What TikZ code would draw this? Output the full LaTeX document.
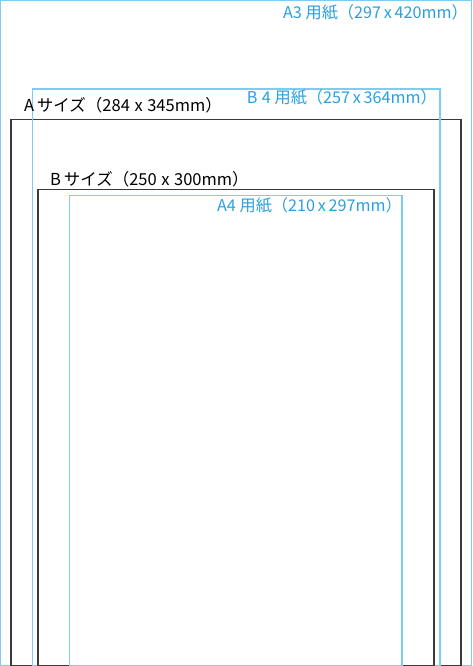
\documentclass[tikz,border=0pt]{standalone}
\usepackage{fontspec}
\setmainfont{Noto Sans CJK JP}
\definecolor{paperline}{HTML}{7CCDF4}
\definecolor{papertext}{HTML}{2A9FDB}
\definecolor{sizeline}{HTML}{3A3A3A}
\tikzset{
  paper/.style={draw=paperline, line width=1.1pt},
  sizebox/.style={draw=sizeline, line width=1.5pt},
  papertag/.style={text=papertext, font=\fontsize{16.2}{16.2}\selectfont, inner sep=0pt, anchor=base east},
  sizetag/.style={text=black, font=\fontsize{16.5}{16.5}\selectfont, inner sep=0pt, anchor=base west}
}
\begin{document}
\begin{tikzpicture}[x=1pt,y=-1pt]
\useasboundingbox (0,0) rectangle (472,666);
% A3
\draw[paper] (0.8,0.8) rectangle (471.2,666);
% A size
\draw[sizebox] (11,119.5) rectangle (461,665.5);
% B4
\draw[paper] (32.5,89) rectangle (440,666);
% B size
\draw[sizebox] (38,189.5) rectangle (434,665.5);
% A4
\draw[paper] (69.5,195.5) rectangle (402,666);
% labels
\node[papertag] (a3lab) at (468,19) {A3 用紙（297\,x\,420mm）};
\node[papertag] (b4lab) at (437,104) {B\;4 用紙（257\,x\,364mm）};
\node[sizetag] (alab) at (24,112) {A\,サイズ（284\;x\;345mm）};
\node[sizetag] (blab) at (50,185) {B\,サイズ（250\;x\;300mm）};
\node[papertag] (a4lab) at (402,211) {A4 用紙（210\,x\,297mm）};
\end{tikzpicture}
\end{document}
